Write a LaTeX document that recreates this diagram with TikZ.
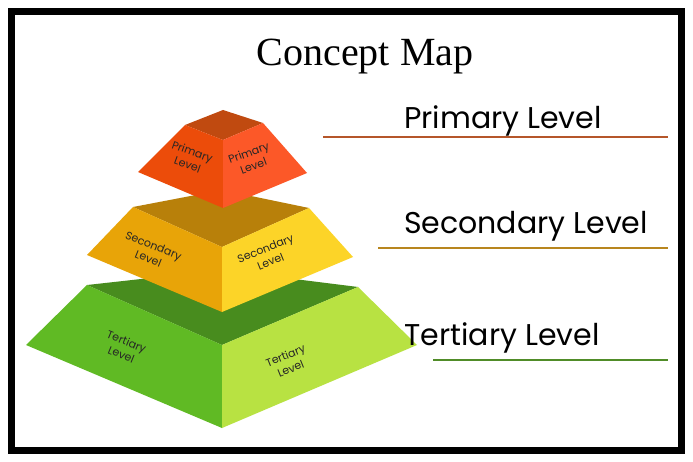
\documentclass[tikz,border=0pt]{standalone}
\usepackage{fontspec}
\setmainfont{Liberation Serif}
\newfontfamily\pop{Poppins}
\begin{document}
\begin{tikzpicture}[x=1pt,y=-1pt,
  lab/.style={font=\pop\fontsize{11}{14}\selectfont,align=center,text=black!85,inner sep=1pt},
  big/.style={font=\pop\fontsize{30}{30}\selectfont,inner sep=0pt}]
\definecolor{ttop}{RGB}{72,140,30}
\definecolor{tl}{RGB}{96,186,36}
\definecolor{tr}{RGB}{184,226,66}
\definecolor{stop}{RGB}{184,128,10}
\definecolor{sl}{RGB}{232,164,8}
\definecolor{sr}{RGB}{252,212,40}
\definecolor{ptop}{RGB}{192,74,16}
\definecolor{pl}{RGB}{236,76,10}
\definecolor{pr}{RGB}{252,88,40}
\useasboundingbox (0,0) rectangle (693,462);
\fill[white] (0,0) rectangle (693,462);
\draw[line width=7pt] (11.5,11.5) rectangle (681.5,450.5);
\node (title) at (365,57) {\fontsize{40}{40}\selectfont Concept Map};
% Tertiary
\fill[ttop] (222,270) -- (87,285) -- (222,345) -- (358,287) -- cycle;
\fill[tl] (87,285) -- (26,345) -- (222,428) -- (222,345) -- cycle;
\fill[tr] (222,345) -- (222,428) -- (417,345) -- (358,287) -- cycle;
% Secondary
\fill[stop] (222,190) -- (133,207) -- (222,247) -- (309,208) -- cycle;
\fill[sl] (133,207) -- (87,255) -- (222,312) -- (222,247) -- cycle;
\fill[sr] (222,247) -- (222,312) -- (353,257) -- (309,208) -- cycle;
% Primary
\fill[ptop] (223,110) -- (185,125) -- (223,140) -- (263,123) -- cycle;
\fill[pl] (185,125) -- (138,172) -- (223,208) -- (223,140) -- cycle;
\fill[pr] (223,140) -- (223,208) -- (307,173) -- (263,123) -- cycle;
% face labels
\node[lab,rotate=-20] (p1) at (190,158) {Primary\\Level};
\node[lab,rotate=20] (p2) at (251,159) {Primary\\Level};
\node[lab,rotate=-22] (s1) at (151,252) {Secondary\\Level};
\node[lab,rotate=22] (s2) at (268,255) {Secondary\\Level};
\node[lab,rotate=-22] (t1) at (124,348) {Tertiary\\Level};
\node[lab,rotate=22] (t2) at (288,362) {Tertiary\\Level};
% right labels
\node[big] (plab) at (503,121) {Primary Level};
\node[big] (slab) at (526,226) {Secondary Level};
\node[big] (tlab) at (502,338) {Tertiary Level};
\coordinate (pa) at (323,137); \coordinate (pb) at (668,137);
\coordinate (sa) at (378,248); \coordinate (sb) at (668,248);
\coordinate (ta) at (433,360); \coordinate (tb) at (668,360);
\draw[line width=2pt,color={rgb,255:red,181;green,86;blue,42}] (pa) -- (pb);
\draw[line width=2pt,color={rgb,255:red,184;green,134;blue,30}] (sa) -- (sb);
\draw[line width=2pt,color={rgb,255:red,80;green,140;blue,40}] (ta) -- (tb);
\end{tikzpicture}
\end{document}
